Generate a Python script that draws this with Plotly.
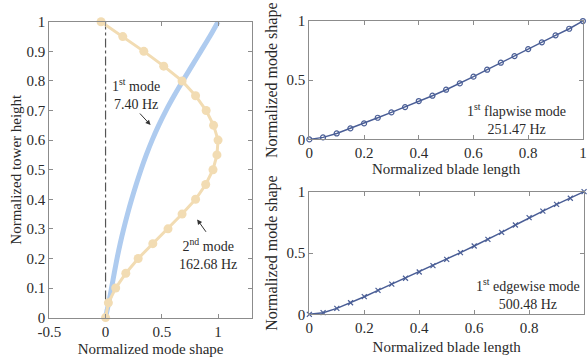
import plotly.graph_objects as go

# ---- data ----
tower_h = [0, 0.05, 0.1, 0.15, 0.2, 0.25, 0.3, 0.35, 0.4, 0.45, 0.5,
           0.55, 0.6, 0.65, 0.7, 0.75, 0.8, 0.85, 0.9, 0.95, 1.0]
mode1_tower = [0, 0.028, 0.053, 0.077, 0.102, 0.130, 0.161, 0.195, 0.232, 0.272, 0.315,
               0.362, 0.414, 0.472, 0.537, 0.609, 0.686, 0.766, 0.846, 0.926, 1.0]
mode2_tower = [0, 0.025, 0.09, 0.18, 0.29, 0.42, 0.555, 0.68, 0.80, 0.89, 0.955,
               0.99, 1.0, 0.96, 0.894, 0.80, 0.68, 0.517, 0.34, 0.153, -0.04]

blade_len = [0, 0.05, 0.1, 0.15, 0.2, 0.25, 0.3, 0.35, 0.4, 0.45, 0.5,
             0.55, 0.6, 0.65, 0.7, 0.75, 0.8, 0.85, 0.9, 0.95, 1.0]
flap_mode = [0, 0.017, 0.05, 0.093, 0.135, 0.183, 0.228, 0.273, 0.324, 0.369, 0.42,
             0.473, 0.53, 0.589, 0.648, 0.704, 0.763, 0.82, 0.879, 0.935, 1.0]
edge_mode = [0, 0.014, 0.049, 0.095, 0.144, 0.196, 0.247, 0.294, 0.345, 0.397, 0.448,
             0.503, 0.557, 0.611, 0.668, 0.728, 0.788, 0.842, 0.897, 0.946, 1.0]

left_xticks = [-0.5, 0, 0.5, 1]
left_yticks = [0, 0.1, 0.2, 0.3, 0.4, 0.5, 0.6, 0.7, 0.8, 0.9, 1]
blade_xticks = [0, 0.2, 0.4, 0.6, 0.8, 1]
blade_yticks = [0, 0.5, 1]

FONT = "Liberation Serif, Times New Roman, serif"
TXT = "#2a2a2a"
AX = "#8c8c8c"
LINE_BLUE = "#4a5e96"

fig = go.Figure()

# dash-dot reference line at x = 0
fig.add_trace(go.Scatter(x=[0, 0], y=[0, 1], mode="lines",
                         line=dict(color="#555555", width=1.2, dash="dashdot"),
                         xaxis="x", yaxis="y", showlegend=False, hoverinfo="skip"))
# 1st tower mode
fig.add_trace(go.Scatter(x=mode1_tower, y=tower_h, mode="lines",
                         line=dict(color="#aecbef", width=5, shape="spline"),
                         xaxis="x", yaxis="y", showlegend=False))
# 2nd tower mode
fig.add_trace(go.Scatter(x=mode2_tower, y=tower_h, mode="lines+markers",
                         line=dict(color="#f2dcb3", width=3),
                         marker=dict(color="#f2dcb3", size=9),
                         xaxis="x", yaxis="y", showlegend=False, cliponaxis=False))
# flapwise
fig.add_trace(go.Scatter(x=blade_len, y=flap_mode, mode="lines+markers",
                         line=dict(color=LINE_BLUE, width=1.5),
                         marker=dict(symbol="circle-open", color=LINE_BLUE, size=5,
                                     line=dict(width=1.2)),
                         xaxis="x2", yaxis="y2", showlegend=False, cliponaxis=False))
# edgewise
fig.add_trace(go.Scatter(x=blade_len, y=edge_mode, mode="lines+markers",
                         line=dict(color=LINE_BLUE, width=1.5),
                         marker=dict(symbol="x-thin", color=LINE_BLUE, size=5,
                                     line=dict(width=1.2, color=LINE_BLUE)),
                         xaxis="x3", yaxis="y3", showlegend=False, cliponaxis=False))

def ax(tick_size=15, title_size=15, **kw):
    base = dict(showline=True, linecolor=AX, linewidth=1, mirror="ticks",
                ticks="inside", ticklen=4, tickcolor=AX, showgrid=False,
                zeroline=False, automargin=False,
                tickfont=dict(family=FONT, size=tick_size, color=TXT),
                title_font=dict(family=FONT, size=title_size, color=TXT))
    base.update(kw)
    return base

fig.update_layout(
    width=587, height=363,
    margin=dict(l=0, r=0, t=0, b=0),
    paper_bgcolor="white", plot_bgcolor="white",
    font=dict(family=FONT, color=TXT),
    xaxis=ax(domain=[0.084, 0.429], range=[-0.5, 1.3], tickvals=left_xticks,
             ticktext=["-0.5", "0", "0.5", "1"],
             title=dict(text="Normalized mode shape", standoff=4), anchor="y"),
    yaxis=ax(domain=[0.125, 0.940], range=[0, 1], tickvals=left_yticks,
             ticktext=[str(v) for v in left_yticks],
             title=dict(text="Normalized tower height", standoff=1), anchor="x"),
    xaxis2=ax(domain=[0.527, 0.993], range=[0, 1], tickvals=blade_xticks,
              ticktext=[str(v) for v in blade_xticks],
              title=dict(text="Normalized blade length", standoff=2), anchor="y2"),
    yaxis2=ax(title_size=16, domain=[0.616, 0.942], range=[0, 1], tickvals=blade_yticks,
              ticktext=["0", "0.5", "1"],
              title=dict(text="Normalized mode shape", standoff=4), anchor="x2"),
    xaxis3=ax(domain=[0.527, 0.995], range=[0, 1], tickvals=blade_xticks,
              ticktext=[str(v) for v in blade_xticks],
              title=dict(text="Normalized blade length", standoff=6), anchor="y3"),
    yaxis3=ax(title_size=16, domain=[0.134, 0.472], range=[0, 1], tickvals=blade_yticks,
              ticktext=["0", "0.5", "1"],
              title=dict(text="Normalized mode shape", standoff=4), anchor="x3"),
)

afont = dict(family=FONT, size=14, color=TXT)
fig.add_annotation(x=0.275, y=0.756, xref="x", yref="y", showarrow=False,
                   text="1<sup>st</sup> mode<br>7.40 Hz", font=afont, align="center")
fig.add_annotation(x=0.40, y=0.651, ax=0.293, ay=0.695, xref="x", yref="y",
                   axref="x", ayref="y", text="", showarrow=True, arrowhead=2,
                   arrowsize=1, arrowwidth=1, arrowcolor="#333333")
fig.add_annotation(x=0.91, y=0.215, xref="x", yref="y", showarrow=False,
                   text="2<sup>nd</sup> mode<br>162.68 Hz", font=afont, align="center")
fig.add_annotation(x=0.814, y=0.332, ax=0.902, ay=0.285, xref="x", yref="y",
                   axref="x", ayref="y", text="", showarrow=True, arrowhead=2,
                   arrowsize=1, arrowwidth=1, arrowcolor="#333333")
fig.add_annotation(x=0.758, y=0.17, xref="x2", yref="y2", showarrow=False,
                   text="1<sup>st</sup> flapwise mode<br>251.47 Hz", font=afont, align="center")
fig.add_annotation(x=0.797, y=0.168, xref="x3", yref="y3", showarrow=False,
                   text="1<sup>st</sup> edgewise mode<br>500.48 Hz", font=afont, align="center")

fig.write_html("out.html")
